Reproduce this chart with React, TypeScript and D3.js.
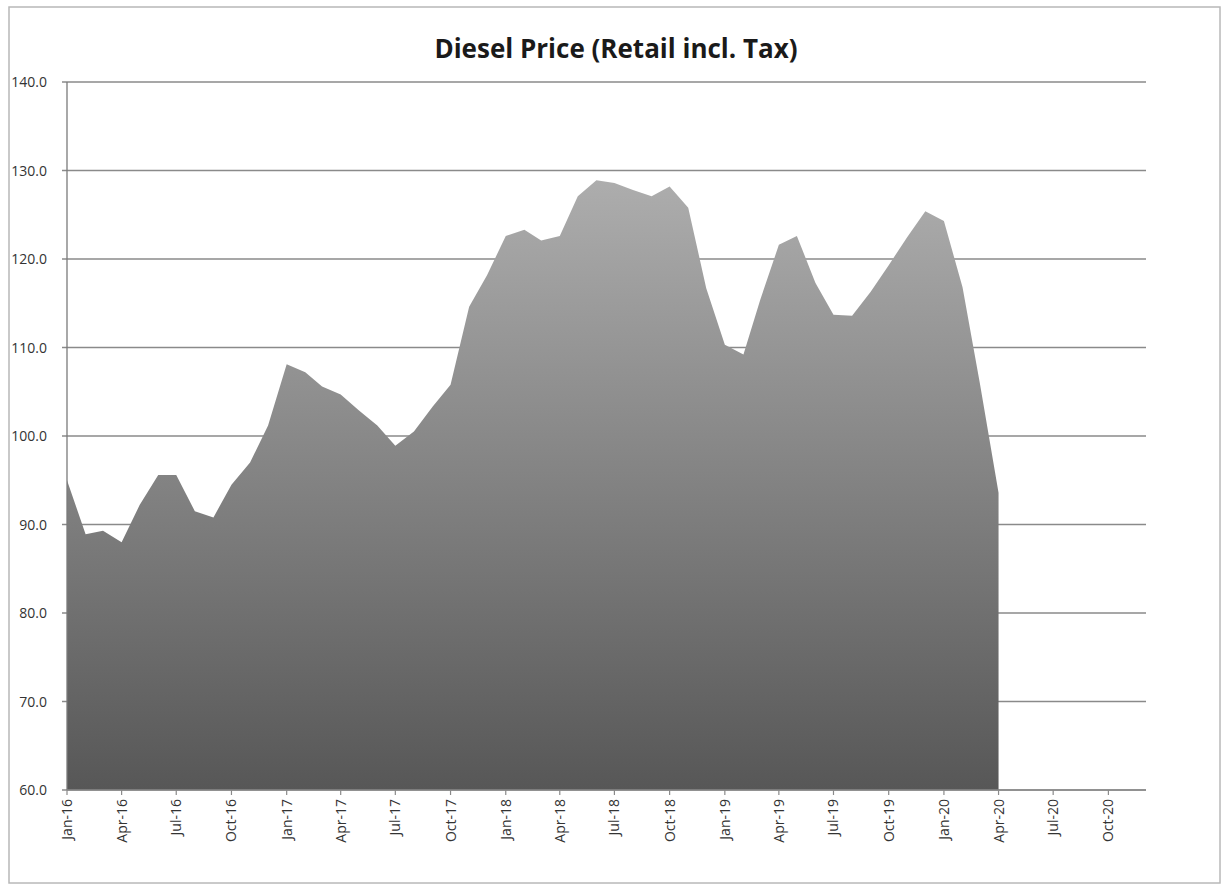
import React from "react";
import * as d3 from "d3";

const months: string[] = [
  "2016-01","2016-02","2016-03","2016-04","2016-05","2016-06","2016-07","2016-08","2016-09","2016-10","2016-11","2016-12",
  "2017-01","2017-02","2017-03","2017-04","2017-05","2017-06","2017-07","2017-08","2017-09","2017-10","2017-11","2017-12",
  "2018-01","2018-02","2018-03","2018-04","2018-05","2018-06","2018-07","2018-08","2018-09","2018-10","2018-11","2018-12",
  "2019-01","2019-02","2019-03","2019-04","2019-05","2019-06","2019-07","2019-08","2019-09","2019-10","2019-11","2019-12",
  "2020-01","2020-02","2020-03","2020-04",
];
const prices: number[] = [
  95.0, 88.9, 89.3, 88.0, 92.2, 95.6, 95.6, 91.5, 90.8, 94.5, 97.0, 101.2,
  108.1, 107.2, 105.6, 104.7, 102.9, 101.2, 98.9, 100.5, 103.3, 105.8, 114.6, 118.2,
  122.6, 123.3, 122.1, 122.6, 127.1, 128.9, 128.6, 127.8, 127.1, 128.2, 125.8, 116.7,
  110.3, 109.2, 115.4, 121.6, 122.6, 117.3, 113.7, 113.6, 116.3, 119.3, 122.5, 125.4,
  124.3, 116.8, 105.9, 93.6,
];
const yTicks: number[] = [60, 70, 80, 90, 100, 110, 120, 130, 140];
const xStart = "2016-01";
const xEnd = "2020-12";
const title = "Diesel Price (Retail incl. Tax)";

const W = 1224;
const H = 886;
const plot = { left: 67, right: 1146, top: 82, bottom: 790 };

export default function App() {
  const parse = d3.timeParse("%Y-%m");
  const fmt = d3.timeFormat("%b-%y");
  const data = months.map((m, i) => ({ date: parse(m) as Date, value: prices[i] }));
  const x = d3
    .scaleTime()
    .domain([parse(xStart) as Date, parse(xEnd) as Date])
    .range([plot.left, plot.right - 1]);
  const y = d3.scaleLinear().domain([60, 140]).range([plot.bottom, plot.top]);
  const area = d3
    .area<{ date: Date; value: number }>()
    .x((d) => x(d.date))
    .y0(y(60))
    .y1((d) => y(d.value));
  const xTicks = d3.timeMonth.every(3)!.range(parse(xStart) as Date, d3.timeMonth.offset(parse(xEnd) as Date, 1));

  return (
    <svg width={W} height={H} style={{ position: "absolute", left: 0, top: 0, background: "#fff" }}
      fontFamily="'Open Sans', 'DejaVu Sans', sans-serif">
      <defs>
        <linearGradient id="fillGrad" x1="0" y1="0" x2="0" y2="1">
          <stop offset="0%" stopColor="#adadad" />
          <stop offset="100%" stopColor="#575757" />
        </linearGradient>
      </defs>
      <rect x={9} y={7} width={1211} height={876} fill="none" stroke="#b8b8b8" strokeWidth={1.5} />
      <text x={616} y={58} textAnchor="middle" fontSize={26} fontWeight={700} fill="#1a1a1a">
        {title}
      </text>
      {yTicks.map((t) => (
        <g key={t}>
          <line x1={plot.left - 5} x2={plot.right} y1={y(t)} y2={y(t)} stroke="#8a8a8a" strokeWidth={1.3} />
          <text x={47} y={y(t) + 5} textAnchor="end" fontSize={14} fill="#333">
            {t.toFixed(1)}
          </text>
        </g>
      ))}
      <path d={area(data) || ""} fill="url(#fillGrad)" />
      <line x1={plot.left} x2={plot.left} y1={plot.top} y2={plot.bottom} stroke="#7a7a7a" strokeWidth={1.3} />
      <line x1={plot.left} x2={plot.right} y1={plot.bottom} y2={plot.bottom} stroke="#8a8a8a" strokeWidth={1.3} />
      {xTicks.map((d) => (
        <g key={d.toISOString()} transform={`translate(${x(d)},${plot.bottom})`}>
          <line y1={0} y2={5} stroke="#8a8a8a" strokeWidth={1.2} />
          <text transform="rotate(-90)" x={-9} y={5} textAnchor="end" fontSize={14} fill="#333">
            {fmt(d)}
          </text>
        </g>
      ))}
    </svg>
  );
}
